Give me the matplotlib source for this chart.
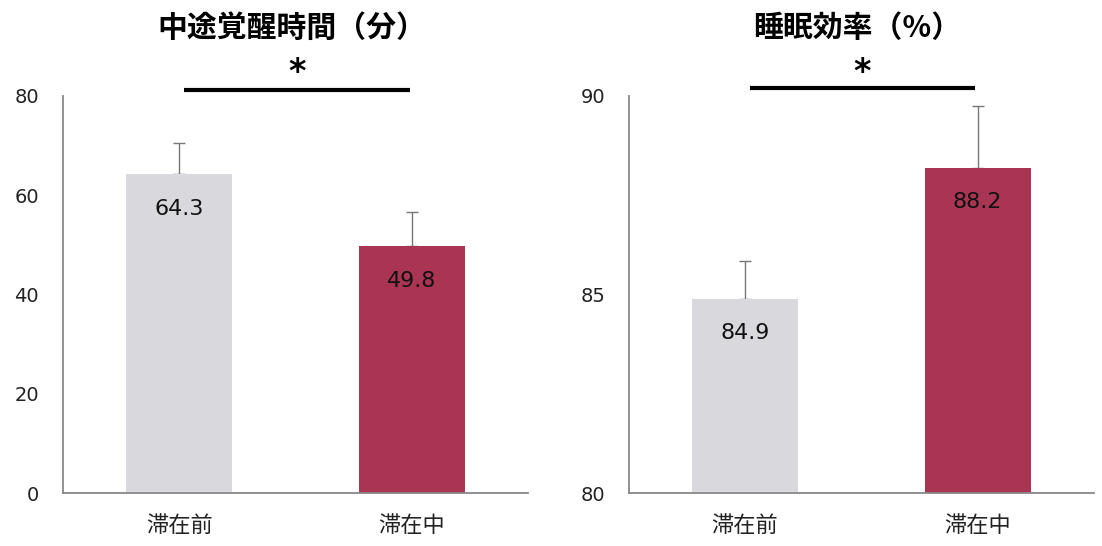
import matplotlib
matplotlib.use("Agg")
import matplotlib.pyplot as plt
import numpy as np

plt.rcParams["font.family"] = ["Noto Sans CJK JP", "DejaVu Sans"]

categories = ["滞在前", "滞在中"]
bar_colors = ["#D9D8DC", "#A93553"]

# 中途覚醒時間（分）
wake_mean = [64.3, 49.8]
wake_err = [6.3, 6.8]
wake_ticks = [0, 20, 40, 60, 80]

# 睡眠効率（%）
eff_mean = [84.9, 88.2]
eff_err = [0.95, 1.56]
eff_ticks = [80, 85, 90]

fig = plt.figure(figsize=(11.02, 5.46), dpi=100)
ax1 = fig.add_axes([0.0569, 0.0965, 0.4225, 0.7277])
ax2 = fig.add_axes([0.5705, 0.0965, 0.4222, 0.7277])


def draw_panel(ax, means, errs, ticks, sig_y, star_y, label_off):
    x = np.arange(len(categories))
    lo = ticks[0]
    ax.bar(x, np.array(means) - lo, bottom=lo, width=0.455, color=bar_colors, zorder=2)
    # lower cap sits under the bar
    ax.errorbar(x, means, yerr=[np.zeros(len(errs)), errs], fmt="none",
                ecolor="#777777", elinewidth=1.0, capsize=4, capthick=1.0, zorder=1)
    for xi, m in zip(x, means):
        ax.annotate(f"{m:.1f}", (xi, m), xytext=(0, -label_off), textcoords="offset points",
                    ha="center", va="center", fontsize=16, color="#111111",
                    family="DejaVu Sans")
    ax.set_xlim(-0.5, 1.5)
    ax.set_ylim(ticks[0], ticks[-1])
    ax.set_yticks(ticks)
    ax.set_xticks(x)
    ax.set_xticklabels(categories)
    for lbl in ax.get_yticklabels():
        lbl.set_family("DejaVu Sans")
    for s in ["top", "right"]:
        ax.spines[s].set_visible(False)
    for s in ["left", "bottom"]:
        ax.spines[s].set_color("#888888")
        ax.spines[s].set_linewidth(1.3)
    ax.tick_params(axis="y", length=0, pad=17, labelsize=14, labelcolor="#222222")
    ax.tick_params(axis="x", length=0, pad=15, labelsize=16, labelcolor="#222222")
    # significance bar
    ax.plot([0.02, 0.99], [sig_y, sig_y], color="black", lw=3, clip_on=False,
            solid_capstyle="butt")
    ax.text(0.505, star_y, "*", ha="center", va="center", fontsize=24,
            fontweight="bold", family="DejaVu Sans", clip_on=False)


draw_panel(ax1, wake_mean, wake_err, wake_ticks, 81.2, 84.8, 25)
draw_panel(ax2, eff_mean, eff_err, eff_ticks, 90.21, 90.6, 25)

fig.text(0.265, 1 - 28 / 546, "中途覚醒時間（分）", ha="center", va="center",
         fontsize=21.5, fontweight="bold")
fig.text(0.778, 1 - 28 / 546, "睡眠効率（%）", ha="center", va="center",
         fontsize=21.5, fontweight="bold")

fig.savefig("out.png", dpi=100)
